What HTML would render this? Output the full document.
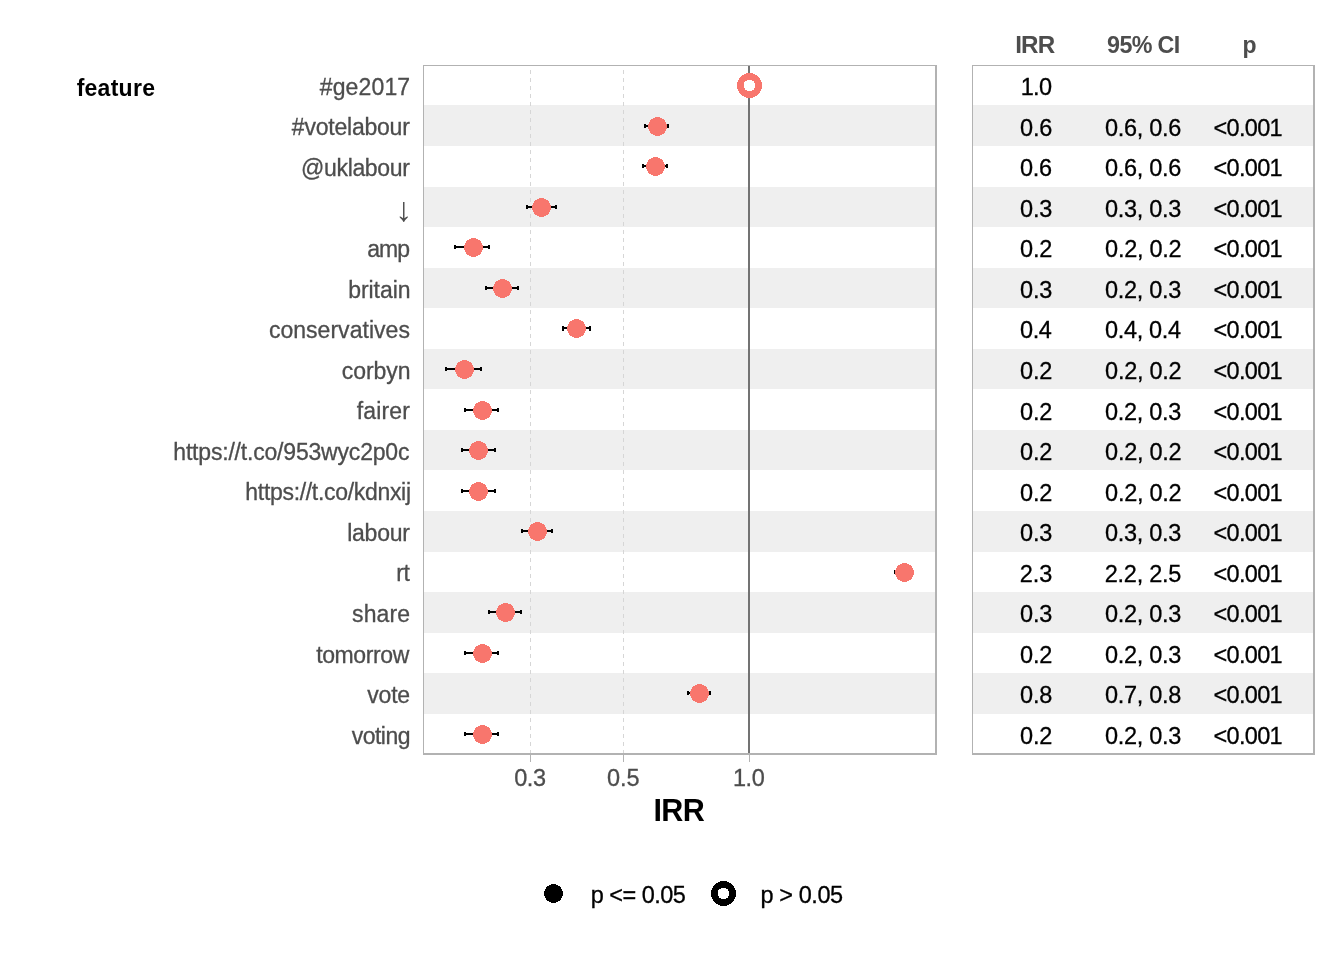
<!DOCTYPE html>
<html lang="en"><head><meta charset="utf-8"><title>IRR forest plot</title>
<style>
html,body{margin:0;padding:0;background:#fff;}
body{width:1344px;height:960px;overflow:hidden;}
svg{display:block;}
text{font-family:"Liberation Sans",Arial,Helvetica,sans-serif;font-size:23.00px;}
.lab{fill:#4d4d4d;stroke:#4d4d4d;stroke-width:.3px;}
.tick{fill:#4d4d4d;stroke:#4d4d4d;stroke-width:.3px;font-size:23.5px;}
.hd{fill:#4d4d4d;font-weight:bold;font-size:24.2px;}
.cell{fill:#000;stroke:#000;stroke-width:.3px;font-size:23.5px;}
.feat{fill:#000;font-weight:bold;}
.ttl{fill:#000;font-weight:bold;font-size:30.50px;}
.leg{fill:#000;stroke:#000;stroke-width:.3px;font-size:23.5px;}
</style></head><body>
<svg width="1344" height="960" viewBox="0 0 1344 960">
<rect width="1344" height="960" fill="#fff"/>
<g fill="#efefef" shape-rendering="crispEdges">
<rect x="423" y="105" width="513" height="41"/>
<rect x="972" y="105" width="342" height="41"/>
<rect x="423" y="187" width="513" height="40"/>
<rect x="972" y="187" width="342" height="40"/>
<rect x="423" y="268" width="513" height="40"/>
<rect x="972" y="268" width="342" height="40"/>
<rect x="423" y="349" width="513" height="40"/>
<rect x="972" y="349" width="342" height="40"/>
<rect x="423" y="430" width="513" height="40"/>
<rect x="972" y="430" width="342" height="40"/>
<rect x="423" y="511" width="513" height="41"/>
<rect x="972" y="511" width="342" height="41"/>
<rect x="423" y="592" width="513" height="41"/>
<rect x="972" y="592" width="342" height="41"/>
<rect x="423" y="673" width="513" height="41"/>
<rect x="972" y="673" width="342" height="41"/>
</g>
<g stroke="#d6d6d6" stroke-width="1" stroke-dasharray="4 4" shape-rendering="crispEdges">
<line x1="530.5" y1="754" x2="530.5" y2="66"/>
<line x1="623.5" y1="754" x2="623.5" y2="66"/>
</g>
<rect x="748" y="66.0" width="2" height="688.0" fill="#737373" shape-rendering="crispEdges"/>
<g fill="#b2b2b2" shape-rendering="crispEdges">
<rect x="423.0" y="65.0" width="514.0" height="1"/>
<rect x="423.0" y="65.0" width="1" height="690.0"/>
<rect x="935.0" y="65.0" width="2" height="690.0"/>
<rect x="423.0" y="753.0" width="514.0" height="2"/>
<rect x="972.0" y="65.0" width="343.0" height="1"/>
<rect x="972.0" y="65.0" width="1" height="690.0"/>
<rect x="1313.0" y="65.0" width="2" height="690.0"/>
<rect x="972.0" y="753.0" width="343.0" height="2"/>
</g>
<g fill="#b3b3b3" shape-rendering="crispEdges">
<rect x="530" y="755.0" width="1" height="7"/>
<rect x="623" y="755.0" width="1" height="7"/>
<rect x="749" y="755.0" width="1" height="7"/>
</g>
<g fill="#000" shape-rendering="crispEdges">
<rect x="645" y="125" width="23" height="2"/>
<rect x="644" y="124" width="2" height="4"/>
<rect x="667" y="124" width="2" height="4"/>
<rect x="643" y="165" width="24" height="2"/>
<rect x="642" y="164" width="2" height="4"/>
<rect x="666" y="164" width="2" height="4"/>
<rect x="527" y="206" width="29" height="2"/>
<rect x="526" y="205" width="2" height="4"/>
<rect x="555" y="205" width="2" height="4"/>
<rect x="455" y="246" width="34" height="2"/>
<rect x="454" y="245" width="2" height="4"/>
<rect x="488" y="245" width="2" height="4"/>
<rect x="486" y="287" width="32" height="2"/>
<rect x="485" y="286" width="2" height="4"/>
<rect x="517" y="286" width="2" height="4"/>
<rect x="563" y="327" width="27" height="2"/>
<rect x="562" y="326" width="2" height="5"/>
<rect x="589" y="326" width="2" height="5"/>
<rect x="446" y="368" width="35" height="2"/>
<rect x="445" y="367" width="2" height="4"/>
<rect x="480" y="367" width="2" height="4"/>
<rect x="465" y="409" width="33" height="2"/>
<rect x="464" y="408" width="2" height="4"/>
<rect x="497" y="408" width="2" height="4"/>
<rect x="462" y="449" width="33" height="2"/>
<rect x="461" y="448" width="2" height="4"/>
<rect x="494" y="448" width="2" height="4"/>
<rect x="462" y="490" width="33" height="2"/>
<rect x="461" y="489" width="2" height="4"/>
<rect x="494" y="489" width="2" height="4"/>
<rect x="522" y="530" width="30" height="2"/>
<rect x="521" y="529" width="2" height="4"/>
<rect x="551" y="529" width="2" height="4"/>
<rect x="895" y="571" width="18" height="2"/>
<rect x="894" y="570" width="2" height="4"/>
<rect x="912" y="570" width="2" height="4"/>
<rect x="489" y="611" width="32" height="2"/>
<rect x="488" y="610" width="2" height="4"/>
<rect x="520" y="610" width="2" height="4"/>
<rect x="465" y="652" width="33" height="2"/>
<rect x="464" y="651" width="2" height="4"/>
<rect x="497" y="651" width="2" height="4"/>
<rect x="688" y="692" width="22" height="2"/>
<rect x="687" y="691" width="2" height="4"/>
<rect x="709" y="691" width="2" height="4"/>
<rect x="465" y="733" width="33" height="2"/>
<rect x="464" y="732" width="2" height="4"/>
<rect x="497" y="732" width="2" height="4"/>
</g>
<g shape-rendering="crispEdges">
<circle cx="749.5" cy="85.5" r="9.2" fill="#fff" stroke="#F8766D" stroke-width="6.6"/>
<circle cx="657.5" cy="126.5" r="9.5" fill="#F8766D"/>
<circle cx="655.5" cy="166.5" r="9.5" fill="#F8766D"/>
<circle cx="541.5" cy="207.5" r="9.5" fill="#F8766D"/>
<circle cx="473.5" cy="247.5" r="9.5" fill="#F8766D"/>
<circle cx="502.5" cy="288.5" r="9.5" fill="#F8766D"/>
<circle cx="576.5" cy="328.5" r="9.5" fill="#F8766D"/>
<circle cx="464.5" cy="369.5" r="9.5" fill="#F8766D"/>
<circle cx="482.5" cy="410.5" r="9.5" fill="#F8766D"/>
<circle cx="478.5" cy="450.5" r="9.5" fill="#F8766D"/>
<circle cx="478.5" cy="491.5" r="9.5" fill="#F8766D"/>
<circle cx="537.5" cy="531.5" r="9.5" fill="#F8766D"/>
<circle cx="904.5" cy="572.5" r="9.5" fill="#F8766D"/>
<circle cx="505.5" cy="612.5" r="9.5" fill="#F8766D"/>
<circle cx="482.5" cy="653.5" r="9.5" fill="#F8766D"/>
<circle cx="699.5" cy="693.5" r="9.5" fill="#F8766D"/>
<circle cx="482.5" cy="734.5" r="9.5" fill="#F8766D"/>
</g>
<text id="l0" class="lab" x="410.26" y="94.87" text-anchor="end" style="letter-spacing:0.139px">#ge2017</text>
<text id="l1" class="lab" x="409.65" y="135.42" text-anchor="end" style="letter-spacing:-0.218px">#votelabour</text>
<text id="l2" class="lab" x="409.45" y="175.96" text-anchor="end" style="letter-spacing:-0.361px">@uklabour</text>
<text id="l3" class="lab" x="412.23" y="220.60" text-anchor="end" style="font-size:34px;stroke:none">↓</text>
<text id="l4" class="lab" x="409.16" y="257.05" text-anchor="end" style="letter-spacing:-0.937px">amp</text>
<text id="l5" class="lab" x="410.45" y="297.60" text-anchor="end" style="letter-spacing:-0.062px">britain</text>
<text id="l6" class="lab" x="409.94" y="338.14" text-anchor="end" style="letter-spacing:0.033px">conservatives</text>
<text id="l7" class="lab" x="410.41" y="378.69" text-anchor="end" style="letter-spacing:-0.082px">corbyn</text>
<text id="l8" class="lab" x="410.02" y="419.23" text-anchor="end" style="letter-spacing:0.148px">fairer</text>
<text id="l9" class="lab" x="409.26" y="459.78" text-anchor="end" style="letter-spacing:-0.193px">https://t.co/953wyc2p0c</text>
<text id="l10" class="lab" x="410.70" y="500.32" text-anchor="end" style="letter-spacing:-0.314px">https://t.co/kdnxij</text>
<text id="l11" class="lab" x="409.59" y="540.87" text-anchor="end" style="letter-spacing:-0.272px">labour</text>
<text id="l12" class="lab" x="409.70" y="581.41" text-anchor="end" style="letter-spacing:-0.304px">rt</text>
<text id="l13" class="lab" x="410.13" y="621.96" text-anchor="end" style="letter-spacing:0.105px">share</text>
<text id="l14" class="lab" x="408.97" y="662.50" text-anchor="end" style="letter-spacing:-0.377px">tomorrow</text>
<text id="l15" class="lab" x="409.84" y="703.05" text-anchor="end" style="letter-spacing:-0.248px">vote</text>
<text id="l16" class="lab" x="410.06" y="743.59" text-anchor="end" style="letter-spacing:-0.509px">voting</text>
<text id="feat" class="feat" x="76.63" y="95.60" text-anchor="start" style="letter-spacing:0.272px">feature</text>
<text id="t0" class="tick" x="529.98" y="785.60" text-anchor="middle" style="letter-spacing:-0.338px">0.3</text>
<text id="t1" class="tick" x="623.20" y="785.60" text-anchor="middle" style="letter-spacing:-0.101px">0.5</text>
<text id="t2" class="tick" x="748.72" y="785.60" text-anchor="middle" style="letter-spacing:-0.368px">1.0</text>
<text id="ttl" class="ttl" x="678.75" y="821.00" text-anchor="middle" style="letter-spacing:-0.675px">IRR</text>
<text id="h0" class="hd" x="1034.78" y="53.00" text-anchor="middle" style="letter-spacing:-0.793px">IRR</text>
<text id="h1" class="hd" x="1143.33" y="53.00" text-anchor="middle" style="letter-spacing:-0.661px;font-size:23.3px">95% CI</text>
<text id="h2" class="hd" x="1249.60" y="53.00" text-anchor="middle" style="font-size:23px">p</text>
<text id="c0_0" class="cell" x="1036.09" y="95.17" text-anchor="middle" style="letter-spacing:-0.600px">1.0</text>
<text id="c1_0" class="cell" x="1036.06" y="135.72" text-anchor="middle" style="letter-spacing:-0.215px">0.6</text>
<text id="c1_1" class="cell" x="1143.05" y="135.72" text-anchor="middle" style="letter-spacing:-0.313px">0.6, 0.6</text>
<text id="c1_2" class="cell" x="1247.75" y="135.72" text-anchor="middle" style="letter-spacing:-0.698px">&lt;0.001</text>
<text id="c2_0" class="cell" x="1035.99" y="176.26" text-anchor="middle" style="letter-spacing:-0.267px">0.6</text>
<text id="c2_1" class="cell" x="1143.05" y="176.26" text-anchor="middle" style="letter-spacing:-0.313px">0.6, 0.6</text>
<text id="c2_2" class="cell" x="1247.75" y="176.26" text-anchor="middle" style="letter-spacing:-0.701px">&lt;0.001</text>
<text id="c3_0" class="cell" x="1036.10" y="216.81" text-anchor="middle" style="letter-spacing:-0.230px">0.3</text>
<text id="c3_1" class="cell" x="1143.06" y="216.81" text-anchor="middle" style="letter-spacing:-0.314px">0.3, 0.3</text>
<text id="c3_2" class="cell" x="1247.75" y="216.81" text-anchor="middle" style="letter-spacing:-0.698px">&lt;0.001</text>
<text id="c4_0" class="cell" x="1036.12" y="257.35" text-anchor="middle" style="letter-spacing:-0.199px">0.2</text>
<text id="c4_1" class="cell" x="1143.17" y="257.35" text-anchor="middle" style="letter-spacing:-0.287px">0.2, 0.2</text>
<text id="c4_2" class="cell" x="1247.75" y="257.35" text-anchor="middle" style="letter-spacing:-0.701px">&lt;0.001</text>
<text id="c5_0" class="cell" x="1036.10" y="297.90" text-anchor="middle" style="letter-spacing:-0.230px">0.3</text>
<text id="c5_1" class="cell" x="1143.06" y="297.90" text-anchor="middle" style="letter-spacing:-0.314px">0.2, 0.3</text>
<text id="c5_2" class="cell" x="1247.75" y="297.90" text-anchor="middle" style="letter-spacing:-0.698px">&lt;0.001</text>
<text id="c6_0" class="cell" x="1035.79" y="338.44" text-anchor="middle" style="letter-spacing:-0.400px">0.4</text>
<text id="c6_1" class="cell" x="1142.86" y="338.44" text-anchor="middle" style="letter-spacing:-0.359px">0.4, 0.4</text>
<text id="c6_2" class="cell" x="1247.75" y="338.44" text-anchor="middle" style="letter-spacing:-0.701px">&lt;0.001</text>
<text id="c7_0" class="cell" x="1036.12" y="378.99" text-anchor="middle" style="letter-spacing:-0.197px">0.2</text>
<text id="c7_1" class="cell" x="1143.17" y="378.99" text-anchor="middle" style="letter-spacing:-0.286px">0.2, 0.2</text>
<text id="c7_2" class="cell" x="1247.75" y="378.99" text-anchor="middle" style="letter-spacing:-0.698px">&lt;0.001</text>
<text id="c8_0" class="cell" x="1036.12" y="419.53" text-anchor="middle" style="letter-spacing:-0.199px">0.2</text>
<text id="c8_1" class="cell" x="1143.06" y="419.53" text-anchor="middle" style="letter-spacing:-0.314px">0.2, 0.3</text>
<text id="c8_2" class="cell" x="1247.75" y="419.53" text-anchor="middle" style="letter-spacing:-0.701px">&lt;0.001</text>
<text id="c9_0" class="cell" x="1036.12" y="460.08" text-anchor="middle" style="letter-spacing:-0.197px">0.2</text>
<text id="c9_1" class="cell" x="1143.17" y="460.08" text-anchor="middle" style="letter-spacing:-0.286px">0.2, 0.2</text>
<text id="c9_2" class="cell" x="1247.75" y="460.08" text-anchor="middle" style="letter-spacing:-0.698px">&lt;0.001</text>
<text id="c10_0" class="cell" x="1036.12" y="500.62" text-anchor="middle" style="letter-spacing:-0.199px">0.2</text>
<text id="c10_1" class="cell" x="1143.17" y="500.62" text-anchor="middle" style="letter-spacing:-0.287px">0.2, 0.2</text>
<text id="c10_2" class="cell" x="1247.75" y="500.62" text-anchor="middle" style="letter-spacing:-0.701px">&lt;0.001</text>
<text id="c11_0" class="cell" x="1036.10" y="541.17" text-anchor="middle" style="letter-spacing:-0.230px">0.3</text>
<text id="c11_1" class="cell" x="1143.06" y="541.17" text-anchor="middle" style="letter-spacing:-0.314px">0.3, 0.3</text>
<text id="c11_2" class="cell" x="1247.75" y="541.17" text-anchor="middle" style="letter-spacing:-0.698px">&lt;0.001</text>
<text id="c12_0" class="cell" x="1036.01" y="581.71" text-anchor="middle" style="letter-spacing:-0.103px">2.3</text>
<text id="c12_1" class="cell" x="1142.91" y="581.71" text-anchor="middle" style="letter-spacing:-0.276px">2.2, 2.5</text>
<text id="c12_2" class="cell" x="1247.75" y="581.71" text-anchor="middle" style="letter-spacing:-0.701px">&lt;0.001</text>
<text id="c13_0" class="cell" x="1036.10" y="622.26" text-anchor="middle" style="letter-spacing:-0.230px">0.3</text>
<text id="c13_1" class="cell" x="1143.06" y="622.26" text-anchor="middle" style="letter-spacing:-0.314px">0.2, 0.3</text>
<text id="c13_2" class="cell" x="1247.75" y="622.26" text-anchor="middle" style="letter-spacing:-0.698px">&lt;0.001</text>
<text id="c14_0" class="cell" x="1036.12" y="662.80" text-anchor="middle" style="letter-spacing:-0.199px">0.2</text>
<text id="c14_1" class="cell" x="1143.06" y="662.80" text-anchor="middle" style="letter-spacing:-0.314px">0.2, 0.3</text>
<text id="c14_2" class="cell" x="1247.75" y="662.80" text-anchor="middle" style="letter-spacing:-0.701px">&lt;0.001</text>
<text id="c15_0" class="cell" x="1036.07" y="703.35" text-anchor="middle" style="letter-spacing:-0.246px">0.8</text>
<text id="c15_1" class="cell" x="1143.05" y="703.35" text-anchor="middle" style="letter-spacing:-0.315px">0.7, 0.8</text>
<text id="c15_2" class="cell" x="1247.75" y="703.35" text-anchor="middle" style="letter-spacing:-0.698px">&lt;0.001</text>
<text id="c16_0" class="cell" x="1036.12" y="743.89" text-anchor="middle" style="letter-spacing:-0.199px">0.2</text>
<text id="c16_1" class="cell" x="1143.06" y="743.89" text-anchor="middle" style="letter-spacing:-0.314px">0.2, 0.3</text>
<text id="c16_2" class="cell" x="1247.75" y="743.89" text-anchor="middle" style="letter-spacing:-0.701px">&lt;0.001</text>
<g shape-rendering="crispEdges">
<circle cx="553.5" cy="893.5" r="9.5" fill="#000"/>
<circle cx="723.5" cy="893.5" r="9.2" fill="#fff" stroke="#000" stroke-width="6.6"/>
</g>
<text id="g0" class="leg" x="590.75" y="902.80" text-anchor="start" style="letter-spacing:-0.535px">p &lt;= 0.05</text>
<text id="g1" class="leg" x="760.58" y="902.80" text-anchor="start" style="letter-spacing:-0.435px">p &gt; 0.05</text>
</svg>
</body></html>
